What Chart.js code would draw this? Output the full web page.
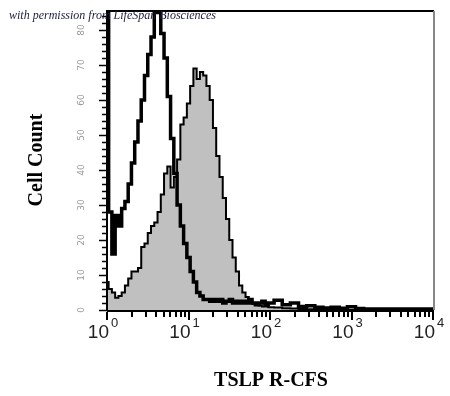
<!DOCTYPE html>
<html>
<head>
<meta charset="utf-8">
<script src="https://cdn.jsdelivr.net/npm/chart.js@4/dist/chart.umd.min.js"></script>
<style>
html,body{margin:0;padding:0;background:#fff;}
</style>
</head>
<body>
<canvas id="chart" width="450" height="396"></canvas>
<script>
// channel positions as log10 of fluorescence
const channelLog = [
0.00,0.04,0.08,0.12,0.16,0.20,0.24,0.28,0.32,0.36,0.40,0.44,0.48,0.52,0.56,0.60,0.64,0.68,0.72,0.76,
0.80,0.84,0.88,0.92,0.96,1.00,1.04,1.08,1.12,1.16,1.20,1.24,1.28,1.32,1.36,1.40,1.44,1.48,1.52,1.56,
1.60,1.64,1.68,1.72,1.76,1.80,1.84,1.88,1.92,1.96,2.00,
2.1,2.2,2.3,2.4,2.5,2.6,2.7,2.8,2.9,3.0,3.1,3.2,3.3,3.4,3.5,3.6,3.7,3.8,3.9,4.0
];

// isotype control (open, thick black)
const controlCounts = [
130,28,16,27,24,29,31,36,42,48,54,60,67,73,78,85,85,79,72,61,
49,39,30,24,19,15,11,8,5,4,3,3,2.5,3,2.5,3,2,2.5,3,2,
2.5,2,2.5,2,3,2,1.5,2,2.5,1.5,2,
2.8,1.5,2,1,1.2,0.8,0.6,0.8,0.5,0.9,0.4,0.3,0.3,0.3,0.3,0.3,0.3,0.3,0.3,0.3
];

// TSLP R stained (grey filled)
const stainedCounts = [
8,6,5,3.5,4,5,7,9,11,11,12,18,19,22,24,25,28,33,39,41,
35,38,43,53,55,59,64,69,66,68,67,64,60,52,44,38,32,26,20,15,
11,7,5,3.7,2.5,1.8,1.5,1.3,1,1,0.8,
0.7,0.5,0.4,0.3,0.2,0,0,0,0,0,0,0,0,0,0,0,0,0,0,0
];

const decades = [0,1,2,3,4];
const countTicks = [0,10,20,30,40,50,60,70,80];

const xTitle = "TSLP R-CFS";
const yTitle = "Cell Count";
const credit = "with permission from LifeSpan Biosciences";

const fluor = channelLog.map(e => Math.pow(10, e));

// ---------- AXES / TEXT ----------
const axesPlugin = {
id:"axes",
afterDraw(chart){
const c = chart.ctx;
const xs = chart.scales.x;
const ys = chart.scales.y;
const a = chart.chartArea;
c.save();

// frame
c.lineWidth = 2;
c.strokeStyle = "#000";
c.beginPath();
c.moveTo(a.left, a.bottom + 1);
c.lineTo(a.left, a.top);
c.lineTo(a.right + 1, a.top);
c.stroke();
c.strokeStyle = "#888";
c.beginPath();
c.moveTo(a.right + 1, a.top);
c.lineTo(a.right + 1, a.bottom);
c.stroke();
c.strokeStyle = "#000";
c.beginPath();
c.moveTo(a.left, a.bottom + 1);
c.lineTo(a.right + 1, a.bottom + 1);
c.stroke();

// y ticks
c.lineWidth = 1.5;
for(let v=0; v<=84; v+=2){
const y = Math.round(ys.getPixelForValue(v)) + 0.5;
const len = v%10===0 ? 8 : 5;
c.beginPath();
c.moveTo(a.left - len, y);
c.lineTo(a.left, y);
c.stroke();
}

// y tick labels (rotated, faint)
c.fillStyle = "#9a9a9a";
c.font = "9px 'DejaVu Sans'";
c.textAlign = "center";
c.textBaseline = "middle";
countTicks.forEach(v=>{
const y = ys.getPixelForValue(v);
c.save();
c.translate(82, y);
c.rotate(-Math.PI/2);
c.fillText(String(v), 0, 0);
c.restore();
});

// x ticks
c.fillStyle = "#000";
decades.forEach(d=>{
for(let m=1; m<=9; m++){
if(d===4 && m>1) break;
const x = Math.round(xs.getPixelForValue(m*Math.pow(10,d)));
const len = m===1 ? 8 : 5;
c.fillRect(x-1, a.bottom + 2, 2, len);
}
});

// x tick labels 10^n
c.fillStyle = "#222";
c.textBaseline = "alphabetic";
decades.forEach(d=>{
const x = xs.getPixelForValue(Math.pow(10,d));
c.font = "19px 'Liberation Sans'";
c.textAlign = "right";
c.fillText("10", x + 2, 338);
c.font = "13px 'Liberation Sans'";
c.textAlign = "left";
c.fillText(String(d), x + 4, 327);
});

// axis titles
c.fillStyle = "#000";
c.font = "bold 20px 'Liberation Serif'";
c.textAlign = "center";
c.fillText(xTitle, 271, 386);
c.save();
c.translate(37, 160);
c.rotate(-Math.PI/2);
c.textBaseline = "middle";
c.fillText(yTitle, 0, 0);
c.restore();

// credit line
c.fillStyle = "#1c1c40";
c.font = "italic 12px 'Liberation Serif'";
c.textAlign = "left";
c.textBaseline = "middle";
c.fillText(credit, 9, 16);

c.restore();
}
};

const ctx = document.getElementById("chart").getContext("2d");

const chart = new Chart(ctx,{
type:"line",
data:{
datasets:[
{
label:"Isotype",
data:fluor.map((x,i)=>({x:x, y:controlCounts[i]})),
borderColor:"#000",
borderWidth:3.5,
stepped:"middle",
fill:false,
pointRadius:0,
order:0
},
{
label:"TSLP R",
data:fluor.map((x,i)=>({x:x, y:stainedCounts[i]})),
borderColor:"#000",
borderWidth:2,
backgroundColor:"#c0c0c0",
stepped:"middle",
fill:"origin",
pointRadius:0,
order:1
}
]
},
options:{
responsive:false,
animation:false,
layout:{padding:{left:107, right:17, top:11, bottom:86}},
plugins:{legend:{display:false}, tooltip:{enabled:false}},
scales:{
x:{type:"logarithmic", min:1, max:10000, display:false},
y:{min:0, max:85.4, display:false}
}
},
plugins:[axesPlugin]
});
</script>
</body>
</html>
